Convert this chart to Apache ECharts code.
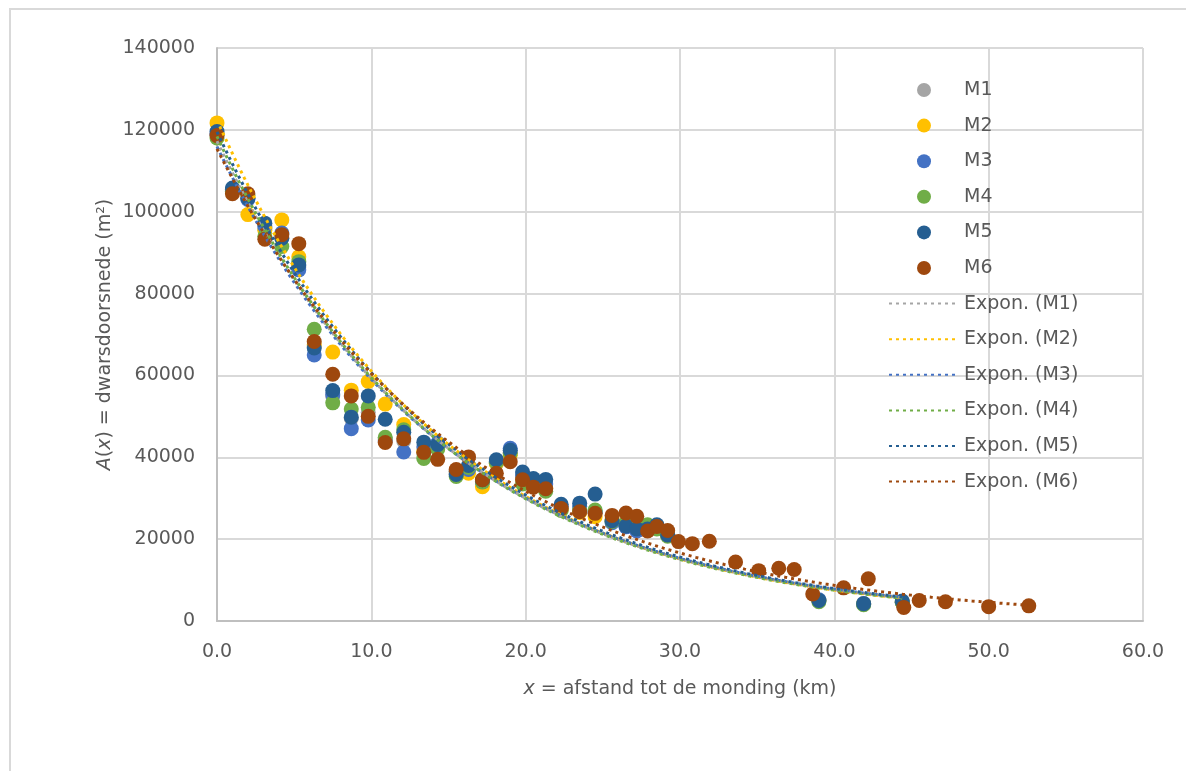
<!DOCTYPE html>
<html>
<head>
<meta charset="utf-8">
<script src="https://cdn.jsdelivr.net/npm/echarts@6/dist/echarts.min.js"></script>
<style>html,body{margin:0;padding:0;background:#fff;}#c{width:1186px;height:771px;}</style>
</head>
<body>
<div id="c"></div>
<script>
// ---- data: [x (km), A (m²)] ----
const seriesNames = ['M1', 'M2', 'M3', 'M4', 'M5', 'M6'];
const seriesColors = ['#A5A5A5', '#FFC000', '#4472C4', '#70AD47', '#255E91', '#9E480E'];

const m1 = [[0.0,118800],[1.0,105200],[2.0,103300],[3.1,95800],[4.2,93800],[5.3,86500],[6.3,67000],[7.5,55000],[8.7,49500],[9.8,51000],[10.9,44500],[12.1,44000],[13.4,41000],[14.3,42500],[15.5,36000],[16.3,37500],[17.2,34200],[18.1,38500],[19.0,41200],[19.8,35000],[20.5,33500],[21.3,32500],[22.3,27800],[23.5,27200],[24.5,26800],[25.6,24400],[26.5,23500],[27.2,22800],[27.9,22600],[28.5,22900],[29.2,21100],[39.0,5000],[41.9,4100],[44.4,4600]];
const m2 = [[0.0,121700],[1.0,104800],[2.0,99300],[3.1,95500],[4.2,98000],[5.3,89000],[6.3,67500],[7.5,65700],[8.7,56400],[9.8,58500],[10.9,53000],[12.1,48000],[13.4,41500],[14.3,42300],[15.5,36500],[16.3,36100],[17.2,32800],[18.1,38500],[19.0,40500],[19.8,34800],[20.5,33200],[21.3,32500],[22.3,27200],[23.5,26500],[24.5,25500],[25.6,24800],[26.5,23500],[27.2,22800],[27.9,22200],[28.5,22800],[29.2,21000],[39.0,5000],[41.9,4200],[44.4,4700]];
const m3 = [[0.0,119000],[1.0,105500],[2.0,103000],[3.1,96400],[4.2,94800],[5.3,85800],[6.3,65000],[7.5,55300],[8.7,47000],[9.8,49100],[10.9,44000],[12.1,41300],[13.4,42500],[14.3,43500],[15.5,36500],[16.3,37000],[17.2,34000],[18.1,39000],[19.0,42200],[19.8,35500],[20.5,34000],[21.3,33500],[22.3,28000],[23.5,28000],[24.5,26500],[25.6,24000],[26.5,23000],[27.2,22000],[27.9,22800],[28.5,23000],[29.2,21200],[39.0,5200],[41.9,4300],[44.4,4600]];
const m4 = [[0.0,118000],[1.0,105000],[2.0,104000],[3.1,94000],[4.2,91500],[5.3,87800],[6.3,71300],[7.5,53300],[8.7,51800],[9.8,52200],[10.9,44900],[12.1,46700],[13.4,39700],[14.3,42000],[15.5,35300],[16.3,37500],[17.2,34000],[18.1,38800],[19.0,41000],[19.8,33500],[20.5,33500],[21.3,31700],[22.3,27000],[23.5,27000],[24.5,27100],[25.6,24300],[26.5,24000],[27.2,23500],[27.9,23500],[28.5,22500],[29.2,20700],[39.0,4700],[41.9,4000],[44.4,4500]];
const m5 = [[0.0,119600],[1.0,105800],[2.0,103300],[3.1,97200],[4.2,93500],[5.3,87000],[6.3,66700],[7.5,56300],[8.7,49800],[9.8,55000],[10.9,49300],[12.1,46100],[13.4,43700],[14.3,43100],[15.5,35800],[16.3,38000],[17.2,34500],[18.1,39400],[19.0,41700],[19.8,36400],[20.5,34800],[21.3,34600],[22.3,28500],[23.5,28800],[24.5,31000],[25.6,24500],[26.5,23200],[27.2,22500],[27.9,22500],[28.5,23500],[29.2,21000],[39.0,5000],[41.9,4200],[44.4,4900]];
const m6 = [[0.0,118600],[1.0,104400],[2.0,104400],[3.1,93300],[4.2,94400],[5.3,92200],[6.3,68300],[7.5,60300],[8.7,55000],[9.8,50000],[10.9,43600],[12.1,44500],[13.4,41200],[14.3,39500],[15.5,37000],[16.3,40100],[17.2,34500],[18.1,36100],[19.0,38900],[19.8,34500],[20.5,32700],[21.3,32300],[22.3,27500],[23.5,26700],[24.5,26300],[25.6,25800],[26.5,26400],[27.2,25600],[27.9,22000],[28.5,23100],[29.2,22100],[29.9,19400],[30.8,18900],[31.9,19500],[33.6,14400],[35.1,12300],[36.4,12900],[37.4,12600],[38.6,6600],[40.6,8100],[42.2,10300],[44.5,3300],[45.5,5000],[47.2,4700],[50.0,3500],[52.6,3700]];
const allData = [m1, m2, m3, m4, m5, m6];

const xTicks = { min: 0, max: 60, interval: 10 };
const yTicks = { min: 0, max: 140000, interval: 20000 };

// Exponential trendline (least squares on ln y), like Excel's "Expon." trendline
function expFit(pts) {
  const n = pts.length;
  let sx = 0, sy = 0, sxx = 0, sxy = 0;
  pts.forEach(([x, y]) => { const ly = Math.log(y); sx += x; sy += ly; sxx += x * x; sxy += x * ly; });
  const b = (n * sxy - sx * sy) / (n * sxx - sx * sx);
  const a = (sy - b * sx) / n;
  const xs = pts.map(p => p[0]);
  const x0 = Math.min(...xs), x1 = Math.max(...xs);
  const out = [];
  const steps = 200;
  for (let i = 0; i <= steps; i++) {
    const x = x0 + (x1 - x0) * i / steps;
    out.push([x, Math.exp(a + b * x)]);
  }
  return out;
}

const FONT = 'DejaVu Sans';
const TXT = '#595959';

const series = [];
allData.forEach((d, i) => {
  series.push({
    name: seriesNames[i], type: 'scatter', data: d, symbol: 'circle', symbolSize: 15,
    itemStyle: { color: seriesColors[i], opacity: 1 }, z: 2
  });
});
allData.forEach((d, i) => {
  series.push({
    name: 'Expon. (' + seriesNames[i] + ')', type: 'line', data: expFit(d), showSymbol: false, symbol: 'none',
    smooth: false, lineStyle: { color: seriesColors[i], width: 3, type: [3, 4], cap: 'butt' },
    itemStyle: { color: seriesColors[i] }, z: 3, silent: true
  });
});

const legendData = series.map(s => s.type === 'line'
  ? { name: s.name, itemStyle: { color: 'rgba(0,0,0,0)', borderColor: 'rgba(0,0,0,0)', borderWidth: 0 } }
  : { name: s.name });

const chart = echarts.init(document.getElementById('c'), null, { renderer: 'canvas' });
chart.setOption({
  animation: false,
  backgroundColor: '#fff',
  graphic: [
    { type: 'line', shape: { x1: 9, y1: 9, x2: 1186, y2: 9 }, style: { stroke: '#D9D9D9', lineWidth: 2 } },
    { type: 'line', shape: { x1: 10, y1: 9, x2: 10, y2: 771 }, style: { stroke: '#D9D9D9', lineWidth: 2 } }
  ],
  grid: { left: 217, right: 43, top: 48, bottom: 150 },
  legend: {
    orient: 'vertical', left: 883, top: 75, itemWidth: 70, itemHeight: 14, itemGap: 15.6,
    symbolKeepAspect: true,
    data: legendData,
    textStyle: { fontFamily: FONT, fontSize: 19, color: TXT, lineHeight: 20 }
  },
  xAxis: {
    type: 'value', min: xTicks.min, max: xTicks.max, interval: xTicks.interval,
    name: '{i|x} = afstand tot de monding (km)', nameLocation: 'middle', nameGap: 59, nameMoveOverlap: false,
    nameTextStyle: { fontFamily: FONT, fontSize: 19, color: TXT,
      rich: { i: { fontFamily: FONT, fontSize: 19, color: TXT, fontStyle: 'italic' } } },
    axisLine: { show: true, onZero: false, lineStyle: { color: '#BFBFBF', width: 2 } },
    axisTick: { show: false },
    axisLabel: { fontFamily: FONT, fontSize: 19, color: TXT, margin: 22, formatter: v => v.toFixed(1) },
    splitLine: { show: true, lineStyle: { color: '#D9D9D9', width: 2 } }
  },
  yAxis: {
    type: 'value', min: yTicks.min, max: yTicks.max, interval: yTicks.interval,
    name: '{i|A}({i|x}) = dwarsdoorsnede (m²)', nameLocation: 'middle', nameGap: 102, nameMoveOverlap: false,
    nameTextStyle: { fontFamily: FONT, fontSize: 19, color: TXT,
      rich: { i: { fontFamily: FONT, fontSize: 19, color: TXT, fontStyle: 'italic' } } },
    axisLine: { show: true, lineStyle: { color: '#BFBFBF', width: 2 } },
    axisTick: { show: false },
    axisLabel: { fontFamily: FONT, fontSize: 19, color: TXT, margin: 22, formatter: v => String(v) },
    splitLine: { show: true, lineStyle: { color: '#D9D9D9', width: 2 } }
  },
  series: series
});
</script>
</body>
</html>
